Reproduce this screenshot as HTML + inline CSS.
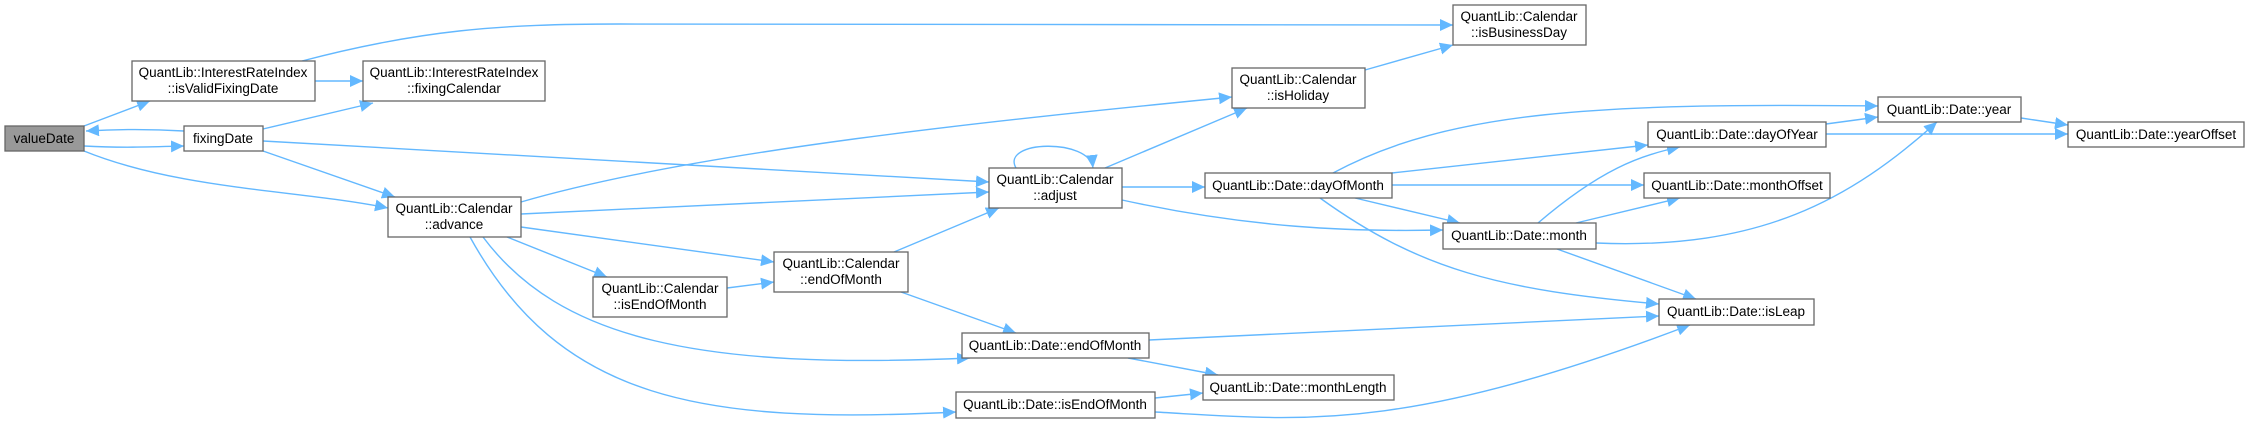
<!DOCTYPE html>
<html><head><meta charset="utf-8"><style>
html,body{margin:0;padding:0;background:#fff;}
svg{display:block;}
text{font-family:"Liberation Sans",Arial,sans-serif;font-size:13.5px;fill:#000;}
</style></head><body>
<svg width="2251" height="425" viewBox="0 0 2251 425" xmlns="http://www.w3.org/2000/svg">
<defs>
<marker id="a" markerUnits="userSpaceOnUse" markerWidth="14" markerHeight="12" refX="13" refY="6" orient="auto">
<path d="M0,0 L13,6 L0,12 Z" fill="#63b8ff"/>
</marker>
</defs>
<g fill="none" stroke="#63b8ff" stroke-width="1.4" marker-end="url(#a)">
<path d="M84,126 L150,101"/>
<path d="M84,146 C120,148 150,147 184,146"/>
<path d="M184,131 C150,129 120,129 86,131"/>
<path d="M84,151 C180,190 300,190 388,208"/>
<path d="M315,81 L363,81"/>
<path d="M302,61 C420,30 500,24 620,24 L1453,25"/>
<path d="M263,129 L373,103"/>
<path d="M263,141 L989,182"/>
<path d="M263,151 L395,197"/>
<path d="M521,202 C700,150 1000,120 1232,97"/>
<path d="M521,214 L989,192"/>
<path d="M521,227 L774,262"/>
<path d="M507,237 L607,277"/>
<path d="M483,237 C560,340 700,370 970,358"/>
<path d="M470,237 C560,400 700,425 956,412"/>
<path d="M727,288 L774,282"/>
<path d="M894,252 L999,208"/>
<path d="M901,292 L1016,333"/>
<path d="M1016,168 C1000,140 1090,138 1093,168"/>
<path d="M1105,168 L1247,108"/>
<path d="M1122,187 L1205,187"/>
<path d="M1122,200 C1250,228 1350,232 1443,230"/>
<path d="M1365,70 L1453,45"/>
<path d="M1333,173 C1450,110 1600,103 1878,106"/>
<path d="M1392,173 L1648,145"/>
<path d="M1392,185 L1644,185"/>
<path d="M1355,198 L1460,223"/>
<path d="M1320,198 C1420,270 1500,290 1659,304"/>
<path d="M1538,223 C1600,170 1640,155 1680,147"/>
<path d="M1576,223 L1680,198"/>
<path d="M1596,243 C1760,250 1850,200 1937,122"/>
<path d="M1557,249 L1696,299"/>
<path d="M1826,124 L1878,117"/>
<path d="M1826,134 L2068,134"/>
<path d="M2021,118 L2068,125"/>
<path d="M1149,340 L1659,316"/>
<path d="M1128,358 L1218,375"/>
<path d="M1155,398 L1203,393"/>
<path d="M1155,412 C1300,420 1400,435 1690,325"/>
</g>
<g stroke="#666" stroke-width="1.3" fill="#fff">
<rect x="5" y="126" width="79" height="25" fill="#999"/>
<rect x="132" y="61" width="183" height="40"/>
<rect x="363" y="61" width="182" height="40"/>
<rect x="184" y="126" width="79" height="25"/>
<rect x="388" y="197" width="133" height="40"/>
<rect x="593" y="277" width="134" height="40"/>
<rect x="1453" y="5" width="133" height="40"/>
<rect x="1232" y="68" width="133" height="40"/>
<rect x="989" y="168" width="133" height="40"/>
<rect x="1205" y="173" width="187" height="25"/>
<rect x="1443" y="223" width="153" height="26"/>
<rect x="774" y="252" width="134" height="40"/>
<rect x="962" y="333" width="187" height="25"/>
<rect x="1203" y="375" width="191" height="25"/>
<rect x="956" y="392" width="199" height="26"/>
<rect x="1878" y="97" width="143" height="25"/>
<rect x="1648" y="122" width="178" height="25"/>
<rect x="2068" y="122" width="176" height="25"/>
<rect x="1644" y="173" width="186" height="25"/>
<rect x="1659" y="299" width="155" height="26"/>
</g>
<g text-anchor="middle">
<text x="44" y="143">valueDate</text>
<text x="223" y="77">QuantLib::InterestRateIndex</text><text x="223" y="93">::isValidFixingDate</text>
<text x="454" y="77">QuantLib::InterestRateIndex</text><text x="454" y="93">::fixingCalendar</text>
<text x="223" y="143">fixingDate</text>
<text x="454" y="213">QuantLib::Calendar</text><text x="454" y="229">::advance</text>
<text x="660" y="293">QuantLib::Calendar</text><text x="660" y="309">::isEndOfMonth</text>
<text x="1519" y="21">QuantLib::Calendar</text><text x="1519" y="37">::isBusinessDay</text>
<text x="1298" y="84">QuantLib::Calendar</text><text x="1298" y="100">::isHoliday</text>
<text x="1055" y="184">QuantLib::Calendar</text><text x="1055" y="200">::adjust</text>
<text x="1298" y="190">QuantLib::Date::dayOfMonth</text>
<text x="1519" y="240">QuantLib::Date::month</text>
<text x="841" y="268">QuantLib::Calendar</text><text x="841" y="284">::endOfMonth</text>
<text x="1055" y="350">QuantLib::Date::endOfMonth</text>
<text x="1298" y="392">QuantLib::Date::monthLength</text>
<text x="1055" y="409">QuantLib::Date::isEndOfMonth</text>
<text x="1949" y="114">QuantLib::Date::year</text>
<text x="1737" y="139">QuantLib::Date::dayOfYear</text>
<text x="2156" y="139">QuantLib::Date::yearOffset</text>
<text x="1737" y="190">QuantLib::Date::monthOffset</text>
<text x="1736" y="316">QuantLib::Date::isLeap</text>
</g>
</svg>
</body></html>
